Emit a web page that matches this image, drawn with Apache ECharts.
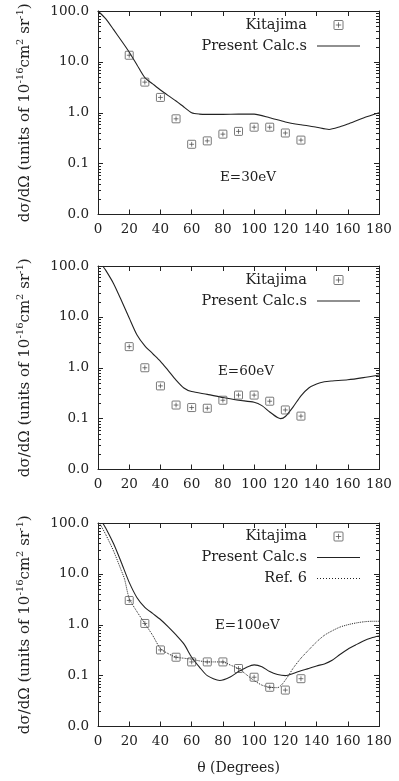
<!DOCTYPE html>
<html>
<head>
<meta charset="utf-8">
<script src="https://cdn.jsdelivr.net/npm/echarts@6/dist/echarts.min.js"></script>
<style>
  html, body {margin: 0; background: #fff;}
  #chart {width: 399px; height: 781px;}
</style>
</head>
<body>
<div id="chart"></div>
<script>
const FONT = 'DejaVu Serif';
const INK = '#222';

// measured angles (deg) and Kitajima cross sections
const EXP_ANGLES = [20, 30, 40, 50, 60, 70, 80, 90, 100, 110, 120, 130];
const KITA_30 = [13.5, 4.0, 2.0, 0.76, 0.24, 0.28, 0.38, 0.43, 0.52, 0.52, 0.40, 0.29];
const KITA_60 = [2.6, 1.0, 0.44, 0.185, 0.165, 0.16, 0.23, 0.29, 0.29, 0.22, 0.148, 0.112];
const KITA_100 = [3.0, 1.06, 0.32, 0.23, 0.186, 0.186, 0.186, 0.138, 0.093, 0.059, 0.052, 0.087];

// present calculation
const CALC_30_ANGLES = [0, 5, 10, 15, 20, 25, 30, 35, 40, 45, 50, 55, 60, 65, 70, 80, 90, 100, 110, 120, 130, 140, 148, 155, 160, 170, 180];
const CALC_30 = [100, 70, 43, 26, 15.5, 8.7, 4.9, 3.7, 2.8, 2.17, 1.7, 1.3, 1.0, 0.94, 0.93, 0.93, 0.94, 0.94, 0.8, 0.66, 0.58, 0.52, 0.47, 0.53, 0.6, 0.79, 1.0];

const CALC_60_ANGLES = [3, 5, 10, 15, 20, 25, 30, 35, 40, 45, 50, 55, 60, 70, 80, 90, 100, 105, 110, 115, 117, 120, 125, 130, 135, 140, 145, 150, 160, 170, 180];
const CALC_60 = [100, 82, 45, 21, 9.5, 4.4, 2.7, 1.9, 1.34, 0.88, 0.57, 0.40, 0.34, 0.30, 0.26, 0.23, 0.21, 0.18, 0.135, 0.105, 0.10, 0.11, 0.17, 0.28, 0.40, 0.48, 0.53, 0.55, 0.58, 0.64, 0.72];

const CALC_100_ANGLES = [3, 5, 10, 15, 20, 25, 30, 35, 40, 45, 50, 55, 60, 65, 70, 78, 85, 90, 95, 100, 105, 110, 115, 120, 125, 130, 135, 140, 145, 150, 155, 160, 165, 170, 175, 180];
const CALC_100 = [100, 79, 39, 16.6, 6.8, 3.4, 2.2, 1.67, 1.27, 0.91, 0.63, 0.42, 0.23, 0.147, 0.10, 0.08, 0.095, 0.12, 0.145, 0.163, 0.15, 0.12, 0.105, 0.10, 0.11, 0.125, 0.138, 0.155, 0.17, 0.2, 0.26, 0.33, 0.40, 0.48, 0.55, 0.6];

// Ref. 6 at 100 eV
const REF6_ANGLES = [1, 5, 10, 15, 17, 20, 25, 30, 35, 40, 45, 50, 55, 60, 65, 70, 75, 80, 85, 90, 95, 100, 105, 110, 115, 118, 122, 125, 130, 135, 140, 145, 150, 155, 160, 165, 170, 175, 180];
const REF6 = [100, 59, 28, 11.5, 7.9, 3.3, 1.8, 1.06, 0.62, 0.34, 0.27, 0.23, 0.22, 0.21, 0.195, 0.186, 0.186, 0.185, 0.16, 0.138, 0.105, 0.08, 0.065, 0.059, 0.058, 0.068, 0.1, 0.14, 0.22, 0.32, 0.46, 0.62, 0.76, 0.9, 1.0, 1.08, 1.14, 1.17, 1.17];

const ENERGY_LABELS = ['E=30eV', 'E=60eV', 'E=100eV'];
const MINOR_TICKS = [0.01, 0.1, 1, 10].flatMap(d => [2, 3, 4, 5, 6, 7, 8, 9].map(k => +(k * d).toPrecision(3)));

const zip = (xs, ys) => xs.map((x, i) => [x, ys[i]]);

const GRID_TOPS = [11, 266, 523];
const GRID_H = 203.5;
const PLUS_BOX = 'path://M1,0H9A1,1 0 0 1 10,1V9A1,1 0 0 1 9,10H1A1,1 0 0 1 0,9V1A1,1 0 0 1 1,0Z M5,2V8 M2,5H8';
const LINE_ICON = 'path://M0,0H43V1.1H0Z';
let dots = '';
for (let x = 0; x < 43; x += 3) dots += 'M' + x + ',0H' + (x + 1) + 'V1.1H' + x + 'Z';
const DOT_ICON = 'path://' + dots;

const chart = echarts.init(document.getElementById('chart'));

const grid = GRID_TOPS.map(t => ({left: 98, width: 281, top: t, height: GRID_H}));

const xAxis = [];
const yAxis = [];
GRID_TOPS.forEach((t, i) => {
  const base = {
    gridIndex: i, type: 'value', min: 0, max: 180, interval: 20,
    axisLine: {onZero: false, lineStyle: {color: INK, width: 1}},
    axisTick: {inside: true, length: 5, lineStyle: {color: INK}},
    splitLine: {show: false}
  };
  xAxis.push(Object.assign({}, base, {
    position: 'bottom',
    axisLabel: {color: INK, fontSize: 13.5, fontFamily: FONT, margin: 8},
    name: i === 2 ? 'θ (Degrees)' : '',
    nameLocation: 'middle', nameGap: 35,
    nameTextStyle: {color: INK, fontSize: 14, fontFamily: FONT}
  }));
  xAxis.push(Object.assign({}, base, {position: 'top', axisLabel: {show: false}}));

  const ybase = {
    gridIndex: i, type: 'log', logBase: 10, min: 0.01, max: 100,
    axisLine: {onZero: false, lineStyle: {color: INK, width: 1}},
    axisTick: {inside: true, length: 5, lineStyle: {color: INK}},
    splitLine: {show: false}
  };
  yAxis.push(Object.assign({}, ybase, {
    position: 'left',
    axisLabel: {color: INK, fontSize: 13.5, fontFamily: FONT, margin: 9, formatter: v => (+v).toFixed(1)},
    name: 'dσ/dΩ (units of 10{s|-16}cm{s|2} sr{s|-1})',
    nameLocation: 'middle', nameRotate: 90, nameGap: 63,
    nameTextStyle: {
      color: INK, fontSize: 15, fontFamily: FONT, lineHeight: 20,
      rich: {s: {fontSize: 10, lineHeight: 10, verticalAlign: 'top', fontFamily: FONT, color: INK}}
    }
  }));
  yAxis.push(Object.assign({}, ybase, {position: 'right', axisLabel: {show: false}}));
});

const KITA_STYLE = {color: 'rgba(0,0,0,0)', borderColor: '#444', borderWidth: 0.9};

function kitajima(i, vals) {
  return {
    name: 'Kitajima', type: 'scatter', xAxisIndex: 2 * i, yAxisIndex: 2 * i,
    data: zip(EXP_ANGLES, vals),
    symbol: PLUS_BOX, symbolSize: 8,
    itemStyle: KITA_STYLE,
    z: 3
  };
}

function curve(i, name, xs, ys, type) {
  return {
    name, type: 'line', xAxisIndex: 2 * i, yAxisIndex: 2 * i,
    data: zip(xs, ys), symbol: 'none', smooth: 0.25,
    lineStyle: {color: INK, width: type === 'dotted' ? 1 : 1.1, type: type || 'solid'},
    itemStyle: {color: INK},
    z: 2
  };
}

function minorTicks(i) {
  return {
    type: 'custom', xAxisIndex: 2 * i, yAxisIndex: 2 * i, silent: true,
    data: MINOR_TICKS.map(v => [0, v]),
    renderItem(params, api) {
      const v = api.value(1);
      const l = api.coord([0, v]);
      const r = api.coord([180, v]);
      const y = Math.round(l[1]) + 0.5;
      const st = {stroke: INK, lineWidth: 1};
      return {type: 'group', children: [
        {type: 'line', shape: {x1: l[0], y1: y, x2: l[0] + 3, y2: y}, style: st},
        {type: 'line', shape: {x1: r[0] - 3, y1: y, x2: r[0], y2: y}, style: st}
      ]};
    }
  };
}

const series = [
  kitajima(0, KITA_30), curve(0, 'Present Calc.s', CALC_30_ANGLES, CALC_30), minorTicks(0),
  kitajima(1, KITA_60), curve(1, 'Present Calc.s', CALC_60_ANGLES, CALC_60), minorTicks(1),
  kitajima(2, KITA_100), curve(2, 'Present Calc.s', CALC_100_ANGLES, CALC_100),
  curve(2, 'Ref. 6', REF6_ANGLES, REF6, 'dotted'), minorTicks(2)
];

const LEG_KITA = {name: 'Kitajima', icon: PLUS_BOX, itemStyle: KITA_STYLE};
const LEG_CALC = {name: 'Present Calc.s', icon: LINE_ICON, itemStyle: {color: INK, borderWidth: 0}};
const LEG_REF = {name: 'Ref. 6', icon: DOT_ICON, itemStyle: {color: INK, borderWidth: 0}};

const legendBase = {
  orient: 'vertical', align: 'right', right: 39, padding: 0,
  itemWidth: 43, itemHeight: 9, itemGap: 6,
  textStyle: {color: INK, fontSize: 14.5, fontFamily: FONT, padding: [0, 5, 0, 0]},
  selectedMode: false
};
const legend = [
  Object.assign({}, legendBase, {top: 17.5, data: [LEG_KITA, LEG_CALC]}),
  Object.assign({}, legendBase, {top: 272.5, data: [LEG_KITA, LEG_CALC]}),
  Object.assign({}, legendBase, {top: 529, data: [LEG_KITA, LEG_CALC, LEG_REF]})
];

const LABEL_POS = [[220, 170], [218, 364], [215, 618]];
const graphic = ENERGY_LABELS.map((t, i) => ({
  type: 'text', left: LABEL_POS[i][0], top: LABEL_POS[i][1],
  style: {text: t, fill: INK, font: '13.5px "' + FONT + '"'}
}));

chart.setOption({
  animation: false,
  backgroundColor: '#fff',
  textStyle: {fontFamily: FONT},
  grid, xAxis, yAxis, series, legend, graphic
});
</script>
</body>
</html>
